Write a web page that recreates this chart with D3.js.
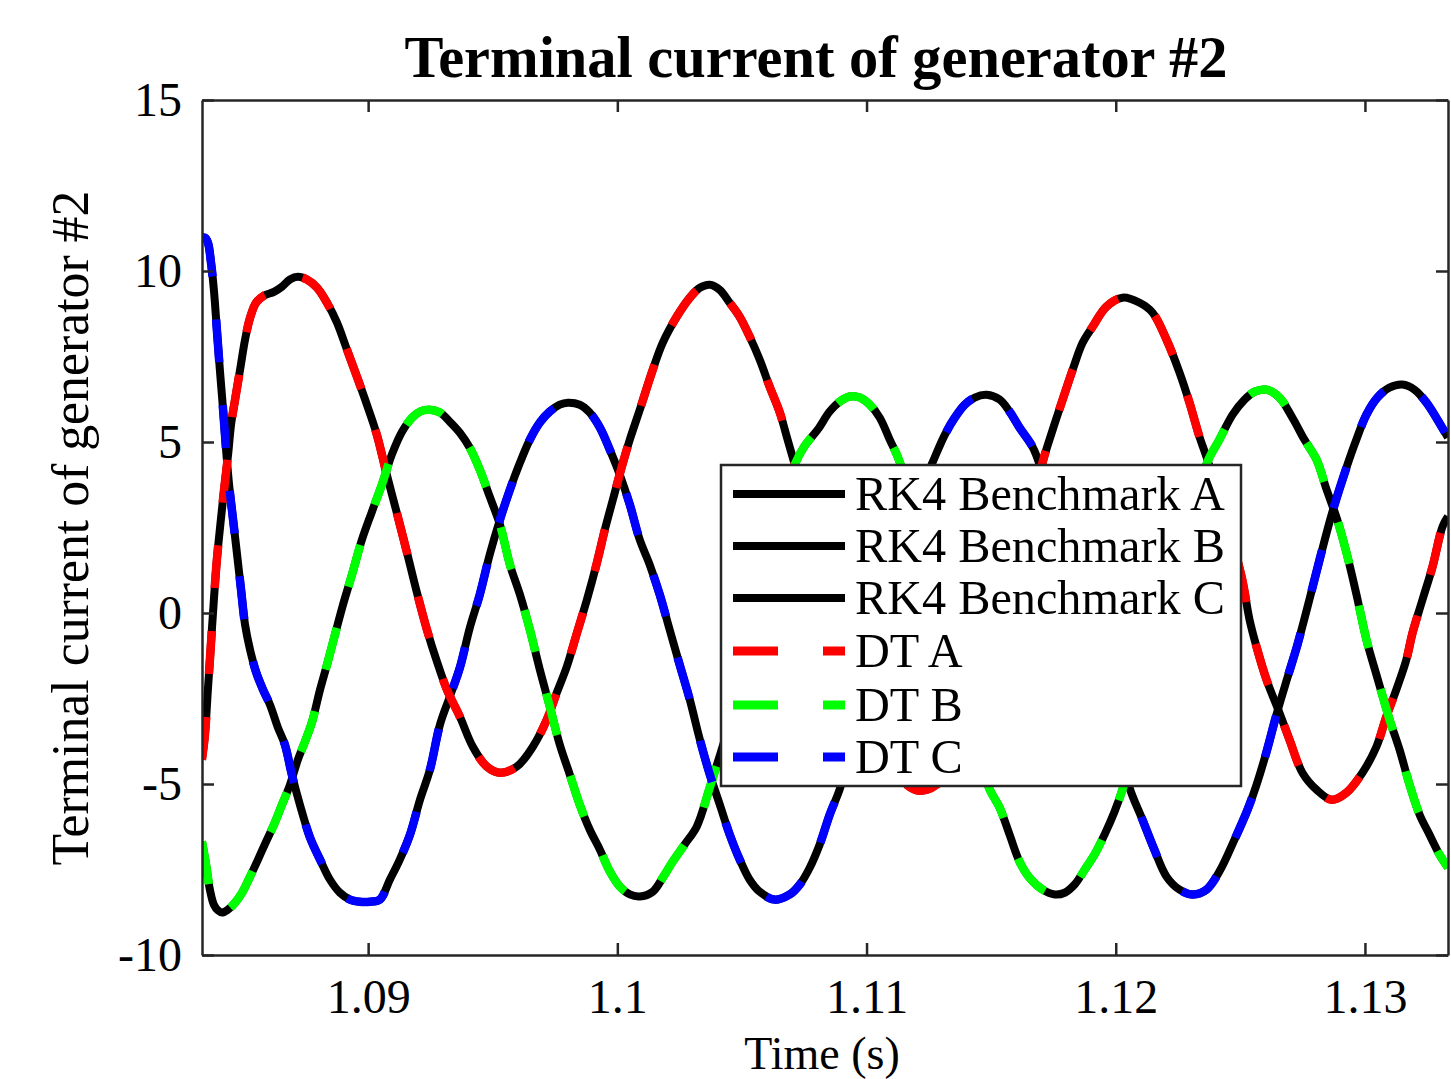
<!DOCTYPE html>
<html>
<head>
<meta charset="utf-8">
<script src="https://cdn.jsdelivr.net/npm/d3@7"></script>
<style>
  body { margin: 0; background: #fff; }
  text { font-family: "Times New Roman", "Liberation Serif", serif; fill: #000; }
</style>
</head>
<body>
<div id="chart"></div>
<script>
// values (time in s, current)
const timeA = [1.08333,1.08345,1.08357,1.08369,1.08381,1.08393,1.08409,1.08422,1.08438,1.08450,1.08466,1.08486,1.08506,1.08526,1.08550,1.08582,1.08622,1.08654,1.08686,1.08718,1.08754,1.08795,1.08835,1.08875,1.08915,1.08955,1.08995,1.09035,1.09075,1.09115,1.09156,1.09196,1.09236,1.09276,1.09316,1.09368,1.09420,1.09476,1.09529,1.09597,1.09661,1.09717,1.09757,1.09797,1.09838,1.09878,1.09918,1.09950,1.09982,1.10018,1.10050,1.10090,1.10142,1.10182,1.10238,1.10291,1.10331,1.10371,1.10411,1.10451,1.10491,1.10531,1.10571,1.10611,1.10652,1.10680,1.10712,1.10812,1.10892,1.10973,1.11053,1.11133,1.11213,1.11314,1.11414,1.11514,1.11614,1.11707,1.11747,1.11787,1.11827,1.11867,1.11907,1.11963,1.12027,1.12096,1.12148,1.12204,1.12256,1.12296,1.12336,1.12364,1.12437,1.12505,1.12537,1.12565,1.12605,1.12657,1.12697,1.12749,1.12806,1.12866,1.12926,1.12990,1.13046,1.13086,1.13126,1.13166,1.13191,1.13231,1.13271,1.13311,1.13333];
const currentA = [-4.29,-3.56,-2.24,-0.93,0.39,1.56,2.73,3.61,4.63,5.51,6.24,7.11,7.99,8.63,9.07,9.28,9.39,9.54,9.75,9.83,9.75,9.51,9.07,8.49,7.70,6.91,6.09,5.21,4.04,2.93,1.76,0.59,-0.49,-1.42,-2.24,-3.03,-3.91,-4.49,-4.67,-4.49,-3.91,-3.12,-2.33,-1.57,-0.58,0.39,1.47,2.44,3.31,4.28,5.07,5.94,7.11,7.90,8.66,9.22,9.51,9.60,9.45,9.07,8.66,8.08,7.41,6.62,5.86,5.15,4.34,1.70,-0.34,-2.24,-3.70,-4.82,-5.20,-4.82,-3.41,-1.22,1.56,4.42,5.36,6.24,7.11,7.90,8.37,8.96,9.22,9.07,8.78,7.99,7.03,6.15,5.15,4.57,2.87,1.06,-0.20,-0.99,-1.95,-2.92,-3.70,-4.67,-5.17,-5.46,-5.25,-4.67,-3.91,-3.03,-2.24,-1.37,-0.58,0.39,1.35,2.52,2.82];

const timeB = [1.08333,1.08349,1.08365,1.08381,1.08398,1.08414,1.08438,1.08466,1.08494,1.08526,1.08558,1.08590,1.08622,1.08654,1.08686,1.08718,1.08746,1.08775,1.08807,1.08835,1.08867,1.08899,1.08935,1.08975,1.09015,1.09055,1.09095,1.09136,1.09176,1.09208,1.09248,1.09288,1.09328,1.09368,1.09408,1.09448,1.09488,1.09529,1.09569,1.09609,1.09649,1.09689,1.09729,1.09769,1.09809,1.09849,1.09889,1.09930,1.09970,1.10010,1.10050,1.10090,1.10142,1.10182,1.10222,1.10270,1.10319,1.10371,1.10431,1.10491,1.10551,1.10611,1.10664,1.10712,1.10752,1.10804,1.10852,1.10892,1.10933,1.10973,1.11013,1.11053,1.11093,1.11133,1.11213,1.11293,1.11374,1.11454,1.11494,1.11534,1.11574,1.11614,1.11654,1.11707,1.11755,1.11795,1.11835,1.11875,1.11915,1.11955,1.11995,1.12027,1.12096,1.12176,1.12256,1.12316,1.12368,1.12416,1.12469,1.12517,1.12557,1.12605,1.12657,1.12709,1.12757,1.12806,1.12846,1.12886,1.12926,1.12966,1.13006,1.13046,1.13099,1.13139,1.13179,1.13219,1.13259,1.13299,1.13333];
const currentB = [-6.68,-7.33,-8.09,-8.53,-8.70,-8.76,-8.67,-8.47,-8.18,-7.71,-7.21,-6.69,-6.19,-5.61,-5.03,-4.29,-3.77,-3.18,-2.24,-1.51,-0.63,0.24,1.12,2.14,2.96,3.75,4.63,5.30,5.71,5.89,5.94,5.86,5.59,5.27,4.83,4.19,3.40,2.58,1.41,0.54,-0.49,-1.66,-2.74,-3.85,-4.72,-5.60,-6.33,-6.92,-7.56,-8.00,-8.23,-8.29,-8.15,-7.74,-7.27,-6.77,-6.24,-5.10,-3.70,-2.24,-0.49,1.41,3.02,4.34,4.89,5.36,5.89,6.18,6.33,6.30,6.09,5.71,5.07,4.42,2.29,0.04,-2.24,-4.29,-5.16,-5.69,-6.48,-7.27,-7.74,-8.09,-8.23,-8.18,-7.94,-7.51,-7.06,-6.48,-5.81,-5.16,-3.41,-1.21,1.12,3.02,4.42,5.07,5.80,6.24,6.47,6.53,6.30,5.71,5.07,4.48,3.61,2.79,1.76,0.54,-0.78,-1.80,-3.12,-4.00,-5.02,-5.89,-6.48,-7.06,-7.44];

const timeC = [1.08333,1.08345,1.08357,1.08369,1.08381,1.08393,1.08405,1.08418,1.08430,1.08442,1.08458,1.08474,1.08490,1.08506,1.08526,1.08550,1.08578,1.08606,1.08638,1.08666,1.08694,1.08726,1.08767,1.08807,1.08847,1.08887,1.08927,1.08967,1.09007,1.09047,1.09087,1.09127,1.09168,1.09208,1.09248,1.09288,1.09328,1.09368,1.09408,1.09448,1.09488,1.09529,1.09569,1.09609,1.09649,1.09689,1.09729,1.09769,1.09801,1.09849,1.09889,1.09930,1.09970,1.10010,1.10050,1.10090,1.10130,1.10170,1.10210,1.10250,1.10291,1.10331,1.10371,1.10411,1.10451,1.10491,1.10531,1.10571,1.10631,1.10692,1.10732,1.10772,1.10812,1.10852,1.10892,1.10933,1.10973,1.11033,1.11093,1.11153,1.11213,1.11273,1.11314,1.11354,1.11394,1.11434,1.11482,1.11534,1.11574,1.11614,1.11666,1.11694,1.11735,1.11775,1.11815,1.11855,1.11895,1.11935,1.11975,1.12015,1.12055,1.12107,1.12155,1.12204,1.12256,1.12308,1.12364,1.12416,1.12477,1.12529,1.12565,1.12605,1.12645,1.12689,1.12729,1.12777,1.12818,1.12866,1.12910,1.12958,1.13006,1.13050,1.13098,1.13150,1.13199,1.13247,1.13291,1.13333];
const currentC = [10.97,10.97,10.83,10.27,9.45,8.28,7.11,5.94,4.77,3.75,2.73,1.71,0.68,-0.34,-1.07,-1.72,-2.24,-2.68,-3.35,-3.85,-4.73,-5.60,-6.57,-7.21,-7.80,-8.18,-8.38,-8.44,-8.44,-8.38,-7.80,-7.21,-6.48,-5.46,-4.58,-3.27,-2.44,-1.60,-0.43,0.54,1.71,2.73,3.61,4.39,5.07,5.57,5.89,6.09,6.15,6.09,5.86,5.42,4.77,4.04,3.17,2.14,1.41,0.54,-0.49,-1.51,-2.54,-3.70,-4.72,-5.60,-6.48,-7.21,-7.80,-8.15,-8.38,-8.23,-7.94,-7.45,-6.77,-5.90,-5.16,-4.14,-3.12,-1.37,0.39,1.99,3.46,4.54,5.21,5.71,6.09,6.30,6.38,6.24,5.89,5.42,4.86,4.35,3.17,2.14,1.34,0.47,-0.49,-1.51,-2.60,-3.86,-5.10,-6.04,-6.92,-7.71,-8.09,-8.23,-8.09,-7.56,-6.62,-5.75,-5.02,-4.06,-2.97,-1.89,-0.93,0.39,1.56,2.87,3.90,4.92,5.80,6.30,6.59,6.68,6.53,6.15,5.65,5.13];

const xTicks = [1.09, 1.1, 1.11, 1.12, 1.13];
const yTicks = [-10, -5, 0, 5, 10, 15];
const legendLabels = ["RK4 Benchmark A", "RK4 Benchmark B", "RK4 Benchmark C", "DT A", "DT B", "DT C"];
const dtColors = ["#ff0000", "#00ff00", "#0000ff"];

const width = 1451, height = 1079;
const plot = {left: 202, right: 1448, top: 100, bottom: 955};
const axisColor = "#262626";

const x = d3.scaleLinear().domain([1.083333, 1.133333]).range([plot.left, plot.right]);
const y = d3.scaleLinear().domain([-10, 15]).range([plot.bottom, plot.top]);

const svg = d3.select("#chart").append("svg")
    .attr("width", width)
    .attr("height", height);

//fit a text element to a given width by changing its font size
function fitWidth(sel, w) {
    let len = sel.node().getComputedTextLength();
    let fs = parseFloat(sel.attr("font-size"));
    sel.attr("font-size", fs * w / len);
}

svg.append("clipPath").attr("id", "plotClip")
  .append("rect")
    .attr("x", plot.left).attr("y", plot.top)
    .attr("width", plot.right - plot.left).attr("height", plot.bottom - plot.top);

//curves
let series = [
    d3.zip(timeA, currentA),
    d3.zip(timeB, currentB),
    d3.zip(timeC, currentC)
];
let line = d3.line()
    .x(d => x(d[0]))
    .y(d => y(d[1]))
    .curve(d3.curveCatmullRom.alpha(0.5));

let curves = svg.append("g").attr("clip-path", "url(#plotClip)");
curves.selectAll("path.rk4")
  .data(series)
  .enter().append("path")
    .attr("class", "rk4")
    .attr("d", line)
    .attr("fill", "none")
    .attr("stroke", "#000")
    .attr("stroke-width", 8)
    .attr("stroke-linejoin", "round");
curves.selectAll("path.dt")
  .data(series)
  .enter().append("path")
    .attr("class", "dt")
    .attr("d", line)
    .attr("fill", "none")
    .attr("stroke", (d, i) => dtColors[i])
    .attr("stroke-width", 8.5)
    .attr("stroke-dasharray", "43,43");

//axes
let fmt = d => String(d);
let gx = svg.append("g")
    .attr("transform", "translate(0," + plot.bottom + ")")
    .call(d3.axisBottom(x).tickValues(xTicks).tickFormat(fmt).tickSizeInner(-12).tickSizeOuter(0).tickPadding(24));
let gxTop = svg.append("g")
    .attr("transform", "translate(0," + plot.top + ")")
    .call(d3.axisTop(x).tickValues(xTicks).tickFormat("").tickSizeInner(-12).tickSizeOuter(0));
let gy = svg.append("g")
    .attr("transform", "translate(" + plot.left + ",0)")
    .call(d3.axisLeft(y).tickValues(yTicks).tickFormat(fmt).tickSizeInner(-12).tickSizeOuter(0).tickPadding(20));
let gyRight = svg.append("g")
    .attr("transform", "translate(" + plot.right + ",0)")
    .call(d3.axisRight(y).tickValues(yTicks).tickFormat("").tickSizeInner(-12).tickSizeOuter(0));

[gx, gxTop, gy, gyRight].forEach(g => {
    g.selectAll(".domain").attr("stroke", axisColor).attr("stroke-width", 2.5);
    g.selectAll(".tick line").attr("stroke", axisColor).attr("stroke-width", 2.5);
    g.selectAll(".tick text")
        .attr("font-family", "'Times New Roman', 'Liberation Serif', serif")
        .attr("font-size", 48)
        .attr("fill", "#262626");
});

//title and labels
let title = svg.append("text")
    .attr("x", 816).attr("y", 77)
    .attr("text-anchor", "middle")
    .attr("font-size", 46)
    .attr("font-weight", "bold")
    .text("Terminal current of generator #2");
fitWidth(title, 823);

let ylabel = svg.append("text")
    .attr("transform", "translate(88,528) rotate(-90)")
    .attr("text-anchor", "middle")
    .attr("font-size", 48)
    .attr("fill", "#262626")
    .text("Terminal current of generator #2");
fitWidth(ylabel, 675);

let xlabel = svg.append("text")
    .attr("x", 822).attr("y", 1069)
    .attr("text-anchor", "middle")
    .attr("font-size", 46)
    .attr("fill", "#262626")
    .text("Time (s)");

//legend
let legend = svg.append("g");
legend.append("rect")
    .attr("x", 721).attr("y", 465)
    .attr("width", 520).attr("height", 321)
    .attr("fill", "#fff")
    .attr("stroke", axisColor)
    .attr("stroke-width", 2.5);
let rowY = [494, 546, 598, 651, 705, 757];
let rows = legend.selectAll("g.row")
  .data(legendLabels)
  .enter().append("g")
    .attr("class", "row")
    .attr("transform", (d, i) => "translate(0," + rowY[i] + ")");
rows.append("line")
    .attr("x1", 733).attr("x2", 845)
    .attr("stroke", (d, i) => i < 3 ? "#000" : dtColors[i - 3])
    .attr("stroke-width", (d, i) => i < 3 ? 8 : 9)
    .attr("stroke-dasharray", (d, i) => i < 3 ? null : "45,45");
let legendText = rows.append("text")
    .attr("x", 855).attr("y", 16)
    .attr("font-size", 42)
    .text(d => d);
let longest = legendText.filter((d, i) => i === 2);
fitWidth(longest, 370);
legendText.attr("font-size", longest.attr("font-size"));
</script>
</body>
</html>
